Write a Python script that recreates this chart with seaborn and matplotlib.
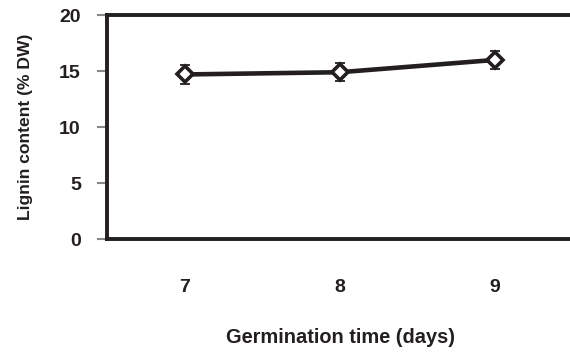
import matplotlib
matplotlib.use("Agg")
import matplotlib.pyplot as plt
import seaborn as sns
import pandas as pd

days = [7, 8, 9]
lignin = [14.7, 14.9, 16.0]
err = [0.85, 0.8, 0.8]
x_label = "Germination time (days)"
y_label = "Lignin content (% DW)"

sns.set_theme(style="white")
plt.rcParams['font.family'] = ['Liberation Sans', 'DejaVu Sans']

df = pd.DataFrame({"day": days, "lignin": lignin, "err": err})

fig = plt.figure(figsize=(5.7, 3.52), dpi=100)
ax = fig.add_axes([0.188, 0.321, 0.817, 0.636])

ink = "#231f20"
ax.errorbar(df["day"], df["lignin"], yerr=df["err"], fmt="none",
            ecolor=ink, elinewidth=1.3, capsize=3.5, capthick=1.3, zorder=2)
sns.lineplot(data=df, x="day", y="lignin", ax=ax, color=ink, linewidth=3.3,
             marker="D", markersize=8.5, markerfacecolor="white",
             markeredgecolor=ink, markeredgewidth=2.6, zorder=3)

ax.set_xlim(6.5, 9.5)
ax.set_ylim(0, 20)
ax.set_xticks(days)
ax.set_xticklabels([str(d) for d in days])
ax.set_yticks([0, 5, 10, 15, 20])

for s in ["left", "bottom", "top"]:
    ax.spines[s].set_color(ink)
    ax.spines[s].set_linewidth(2.8)
ax.spines["right"].set_visible(False)

ax.tick_params(axis="y", which="major", left=True, length=7, width=1.5,
               color="#888888", direction="out", pad=12, labelsize=14)
ax.tick_params(axis="x", which="major", bottom=False, length=0, pad=29,
               labelsize=14)
for lab in ax.get_xticklabels() + ax.get_yticklabels():
    lab.set_fontweight("bold")
    lab.set_color(ink)

ax.set_xlabel(x_label, fontsize=14.4, fontweight="bold", color=ink, labelpad=23)
ax.set_ylabel(y_label, fontsize=12.6, fontweight="bold", color=ink, labelpad=19)

fig.savefig("out.png", dpi=100)
